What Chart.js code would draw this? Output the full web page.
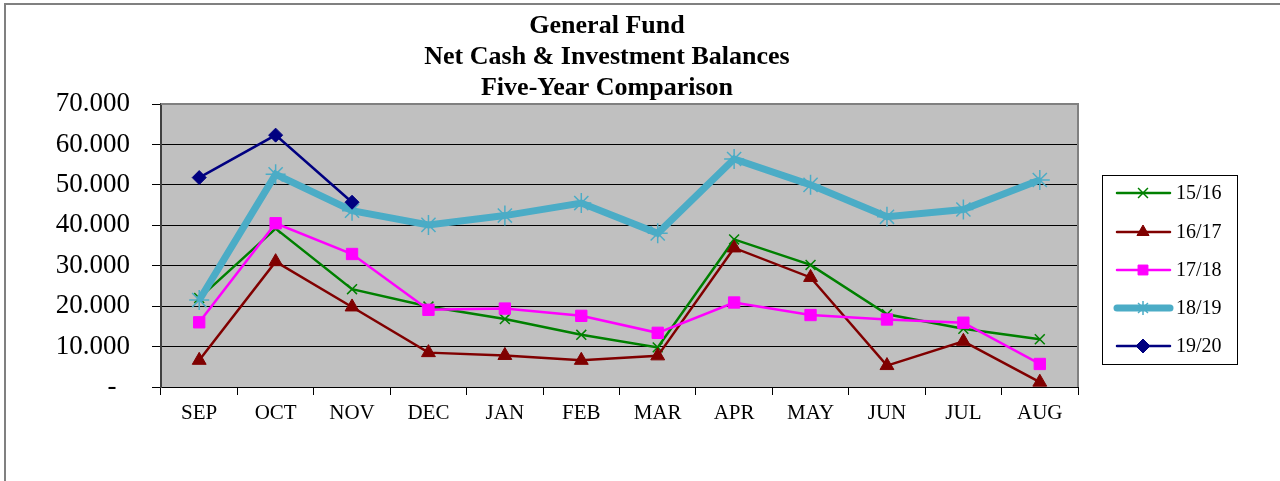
<!DOCTYPE html>
<html>
<head>
<meta charset="utf-8">
<script src="https://cdn.jsdelivr.net/npm/chart.js@4.4.1/dist/chart.umd.min.js"></script>
<style>
  html, body { margin: 0; padding: 0; background: #fff; }
  #wrap { width: 1280px; height: 481px; }
</style>
</head>
<body>
<div id="wrap"><canvas id="fundChart" width="1280" height="481"></canvas></div>
<script>
// months of the fiscal year
const months = ["SEP","OCT","NOV","DEC","JAN","FEB","MAR","APR","MAY","JUN","JUL","AUG"];

// balances per fiscal year (thousands)
const fy1516 = [22.0, 39.2, 24.2, 19.9, 16.8, 12.9, 9.8, 36.5, 30.2, 18.0, 14.4, 11.8];
const fy1617 = [6.6, 31.0, 19.8, 8.5, 7.8, 6.6, 7.7, 34.4, 27.1, 5.3, 11.3, 1.2];
const fy1718 = [16.0, 40.5, 32.9, 19.1, 19.4, 17.6, 13.4, 20.9, 17.8, 16.7, 15.9, 5.7];
const fy1819 = [21.5, 52.6, 43.6, 40.1, 42.4, 45.5, 38.0, 56.4, 50.0, 42.1, 43.9, 51.2];
const fy1920 = [51.8, 62.3, 45.7, null, null, null, null, null, null, null, null, null];

const seriesNames = ["15/16", "16/17", "17/18", "18/19", "19/20"];
const titleLines = ["General Fund", "Net Cash & Investment Balances", "Five-Year Comparison"];

const serif = '"Liberation Serif", "Times New Roman", serif';

const datasets = [
  { label: seriesNames[0], data: fy1516, borderColor: '#008000', backgroundColor: '#008000',
    borderWidth: 2.5, pointStyle: 'crossRot', pointRadius: 7, pointBorderWidth: 1.5, order: 5 },
  { label: seriesNames[1], data: fy1617, borderColor: '#800000', backgroundColor: '#800000',
    borderWidth: 2.5, pointStyle: 'triangle', pointRadius: 8, pointBorderWidth: 1, order: 4 },
  { label: seriesNames[2], data: fy1718, borderColor: '#FF00FF', backgroundColor: '#FF00FF',
    borderWidth: 2.5, pointStyle: 'rect', pointRadius: 8, pointBorderWidth: 1, order: 3 },
  { label: seriesNames[3], data: fy1819, borderColor: '#4BACC6', backgroundColor: '#4BACC6',
    borderWidth: 7, pointStyle: 'star', pointRadius: 10, pointBorderWidth: 1.5, order: 2 },
  { label: seriesNames[4], data: fy1920, borderColor: '#000080', backgroundColor: '#000080',
    borderWidth: 2.5, pointStyle: 'rectRot', pointRadius: 7, pointBorderWidth: 1, order: 1 }
];

// background, frame, title and legend
const decor = {
  id: 'decor',
  beforeDraw(chart) {
    const { ctx, chartArea: a } = chart;
    ctx.save();
    ctx.fillStyle = '#fff';
    ctx.fillRect(0, 0, chart.width, chart.height);
    ctx.strokeStyle = '#808080';
    ctx.lineWidth = 2;
    ctx.beginPath();
    ctx.moveTo(5, chart.height);
    ctx.lineTo(5, 4);
    ctx.lineTo(chart.width, 4);
    ctx.stroke();
    ctx.fillStyle = '#C0C0C0';
    ctx.fillRect(a.left, a.top, a.right - a.left, a.bottom - a.top);
    ctx.restore();
  },
  beforeDatasetsDraw(chart) {
    const { ctx, chartArea: a } = chart;
    ctx.save();
    ctx.strokeStyle = '#808080';
    ctx.lineWidth = 2;
    ctx.beginPath();
    ctx.moveTo(a.left, a.top);
    ctx.lineTo(a.right, a.top);
    ctx.lineTo(a.right, a.bottom);
    ctx.stroke();
    ctx.restore();
  },
  afterDraw(chart) {
    const ctx = chart.ctx;
    ctx.save();
    // title
    ctx.fillStyle = '#000';
    ctx.font = 'bold 26px ' + serif;
    ctx.textAlign = 'center';
    ctx.textBaseline = 'middle';
    titleLines.forEach((t, i) => ctx.fillText(t, 607, 26 + i * 31));

    // legend
    ctx.strokeStyle = '#000';
    ctx.lineWidth = 1;
    ctx.strokeRect(1102.5, 175.5, 135, 189);
    const rows = [193, 232, 270, 308, 346];
    ctx.font = '20px ' + serif;
    ctx.textAlign = 'left';
    chart.data.datasets.forEach((ds, i) => {
      const y = rows[i];
      ctx.strokeStyle = ds.borderColor;
      ctx.lineWidth = ds.borderWidth;
      ctx.lineCap = 'round';
      ctx.beginPath();
      ctx.moveTo(1117, y);
      ctx.lineTo(1170, y);
      ctx.stroke();
      ctx.lineCap = 'butt';
      ctx.fillStyle = ds.backgroundColor;
      ctx.strokeStyle = ds.borderColor;
      ctx.lineWidth = ds.pointBorderWidth;
      Chart.helpers.drawPoint(ctx, {
        pointStyle: ds.pointStyle,
        radius: 7,
        borderWidth: ds.pointBorderWidth,
        rotation: 0
      }, 1143, y);
      ctx.fillStyle = '#000';
      ctx.fillText(ds.label, 1176, y + 1);
    });
    ctx.restore();
  }
};

const ctxFund = document.getElementById('fundChart').getContext('2d');
new Chart(ctxFund, {
  type: 'line',
  data: { labels: months, datasets: datasets },
  options: {
    responsive: false,
    animation: false,
    spanGaps: false,
    layout: { padding: { top: 104, right: 202, bottom: 0, left: 0 } },
    plugins: {
      legend: { display: false },
      title: { display: false },
      tooltip: { enabled: false }
    },
    elements: { line: { tension: 0 } },
    scales: {
      x: {
        offset: true,
        grid: { offset: true, drawOnChartArea: false, color: '#000', tickLength: 8, lineWidth: 1 },
        border: { color: '#000', width: 1 },
        ticks: { color: '#000', font: { family: serif, size: 21 }, padding: 6, maxRotation: 0 },
        afterFit(scale) { scale.height = 94; }
      },
      y: {
        min: 0,
        max: 70,
        grid: { color: '#000', tickLength: 9, lineWidth: 1 },
        border: { color: '#404040', width: 2 },
        ticks: {
          stepSize: 10,
          color: '#000',
          padding: 22,
          font: { family: serif, size: 27 },
          callback: v => v === 0 ? '-  ' : v.toFixed(3)
        },
        afterFit(scale) { scale.width = 161; }
      }
    }
  },
  plugins: [decor]
});
</script>
</body>
</html>
